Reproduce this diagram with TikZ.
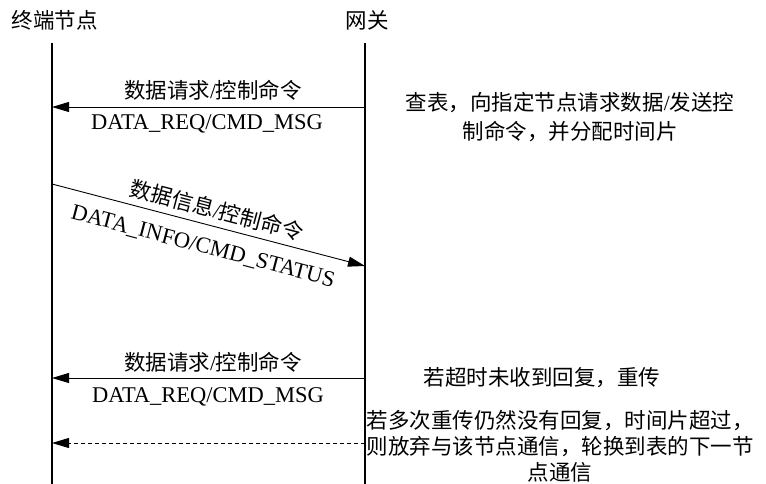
\documentclass[tikz,border=0pt]{standalone}
\usepackage{fontspec}
\setmainfont{Liberation Serif}
\newfontfamily\cjk{Noto Sans CJK SC}
\usetikzlibrary{arrows.meta}
\begin{document}
\begin{tikzpicture}[x=1pt,y=-1pt,
  lifeline/.style={line width=1.6pt},
  msg/.style={line width=0.9pt,-{Triangle[length=17pt,width=10pt]}},
  reply/.style={msg,dash pattern=on 4pt off 3pt},
  cjktext/.style={font=\cjk\fontsize{21.5}{29}\selectfont,inner sep=0pt},
  lattext/.style={font=\fontsize{22.5}{27}\selectfont,inner sep=0pt},
  note/.style={cjktext,align=center}]
\useasboundingbox (0,0) rectangle (766,484);
% headers
\node[cjktext] (hnode) at (55,20) {终端节点};
\node[cjktext] (hgw) at (367,20) {网关};
% lifelines
\coordinate (Ltop) at (52,43);
\coordinate (Lbot) at (52,484);
\coordinate (Rtop) at (365,43);
\coordinate (Rbot) at (365,484);
\draw[lifeline] (Ltop) -- (Lbot);
\draw[lifeline] (Rtop) -- (Rbot);
% message 1
\coordinate (R1) at (365,107);
\coordinate (L1) at (52,107);
\draw[msg] (R1) -- (L1);
\node[cjktext] (m1a) at (213,90) {数据请求{\rmfamily/}控制命令};
\node[lattext,anchor=base] (m1b) at (207,130) {DATA\_REQ/CMD\_MSG};
\node[note] (n1) at (570,117.5) {查表，向指定节点请求数据{\rmfamily/}发送控\\制命令，并分配时间片};
% message 2 (diagonal)
\coordinate (L2) at (52,184);
\coordinate (R2) at (365,266);
\draw[msg] (L2) -- (R2);
\node[cjktext,rotate=-14.7] (m2a) at (217,210) {数据信息{\rmfamily/}控制命令};
\node[lattext,rotate=-14.7] (m2b) at (203,247) {DATA\_INFO/CMD\_STATUS};
% message 3
\coordinate (R3) at (365,378);
\coordinate (L3) at (52,378);
\draw[msg] (R3) -- (L3);
\node[cjktext] (m3a) at (213,362) {数据请求{\rmfamily/}控制命令};
\node[lattext,anchor=base] (m3b) at (208,402) {DATA\_REQ/CMD\_MSG};
\node[cjktext] (n2) at (542,378) {若超时未收到回复，重传};
% message 4 (dashed)
\coordinate (R4) at (365,443);
\coordinate (L4) at (52,443);
\draw[reply] (R4) -- (L4);
\node[note,font=\cjk\fontsize{21.5}{26}\selectfont] (n3) at (560,446) {若多次重传仍然没有回复，时间片超过，\\则放弃与该节点通信，轮换到表的下一节\\点通信};
\end{tikzpicture}
\end{document}
